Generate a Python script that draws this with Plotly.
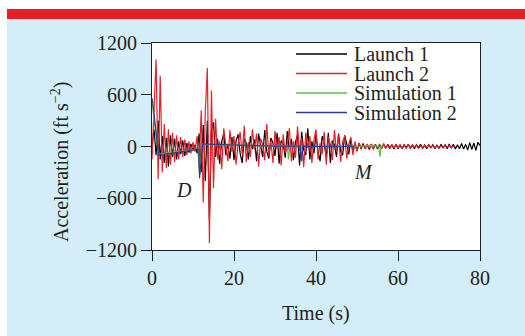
import plotly.graph_objects as go

# ---------------- data ----------------
dt_launch = 0.5  # sampling step of the launch records (s)

launch1 = [
    0, 200, -100, 300, -150, 120, -190, 100, -230, 130,
    -120, 90, -150, 60, -90, 70, -110, 40, -70, 30,
    -50, 20, -80, 150, -300, 250, -400, 300, -850, 200,
    280, -120, 90, -200, 60, 150, -100, 30, -140, 110,
    -160, 60, 140, -80, -190, 90, 40, -150, 120, -30,
    80, -170, 150, 20, -120, 190, -60, -140, 100, 40,
    -110, 160, -200, 70, 30, -130, 180, -50, 90, -160,
    50, 130, -220, 170, -40, -100, 210, -150, 60, -80,
    140, -60, -170, 120, 40, -130, 160, -190, 70, 20,
    -120, 150, -60, -100, 130, 30, -90, 80, -60, 40,
    -50, 40, -30, 35, -25, 20, -35, 30, -20, 25,
    -30, 15, -25, 30, -20, 25, -15, 20, -30, 25,
    -20, 15, -25, 20, -15, 25, -20, 15, -25, 20,
    -15, 25, -20, 15, -25, 20, -15, 20, -25, 15,
    -20, 25, -15, 20, -25, 30, -20, 25, -30, 20,
    -25, 35, -30, 25, -40, 45, -35, 40, -45, 50,
    10,
]

launch2 = [
    -150, 480, 1010, -380, 820, -300, 260, -250, 200, -210,
    160, -180, 130, -150, 110, -120, 80, -100, 60, -80,
    50, -60, 120, -250, 420, -650, 400, 910, -1120, 650,
    -480, 320, -150, 60, -260, 210, 40, -170, 190, -60,
    120, -210, 30, 170, -90, 240, -180, 50, -120, 200,
    -40, 150, -230, 90, 20, -160, 260, -110, 70, -190,
    180, -30, 110, -220, 140, -80, 30, 210, -170, 60,
    -130, 230, -50, 100, -240, 160, -20, 120, -190, 80,
    200, -150, 40, -90, 170, -210, 110, 30, -160, 190,
    -70, 140, -180, 60, 120, -140, 30, 110, -100, 60,
    -60, 40, -30, 20, -25, 30, -20, 25, -35, 20,
    -15, 30, -25, 35, -20, 15, -30, 25, -20, 30,
    -15, 20, -25, 15, -20, 25, -15, 20, -10, 15,
    -20, 10, -15, 20, -10, 15, -12, 10, -15, 12,
    -10, 8, -12, 10, -8, 10, -10, 5, 0,
]

sim1_t = [0, 1.5, 5, 10, 11.3, 11.6, 12.2, 20, 30, 33.0, 33.3, 33.6, 40, 45,
          48, 49, 50, 51, 52, 53, 54, 55.3, 55.6, 55.9, 56.5]
sim1_a = [520, -90, -65, -35, -30, -330, 25, 15, 5, 5, -150, 5, 0, 0,
          5, 0, 8, 3, 10, 5, 8, 5, -120, 5, 5]

sim2_t = [0, 0.3, 1.6, 5, 8, 11, 11.4, 11.6, 11.8, 12.3, 15, 20, 25, 30,
          36.2, 36.5, 36.8, 40, 45, 49.3]
sim2_a = [560, 470, -100, -75, -55, -35, -30, -370, -250, 30, 25, 15, 10, 5,
          5, -170, 5, 0, 0, 0]

series_names = ["Launch 1", "Launch 2", "Simulation 1", "Simulation 2"]
series_colors = ["#000000", "#e8202a", "#5cc23a", "#2b3c9e"]

x_ticks = [0, 20, 40, 60, 80]
y_ticks = [-1200, -600, 0, 600, 1200]

# ---------------- figure ----------------
W, H = 525, 336
L, R, T, B = 152, 45, 43, 86
PW, PH = W - L - R, H - T - B

def px(x):
    return (x - L) / PW

def py(y):
    return (H - B - y) / PH

FONT = "Liberation Serif, Times New Roman, serif"
TXT = "#231f20"

t1 = [i * dt_launch for i in range(len(launch1))]
t2 = [i * dt_launch for i in range(len(launch2))]

fig = go.Figure()
for name, color, xs, ys in zip(series_names, series_colors,
                               [t1, t2, sim1_t, sim2_t],
                               [launch1, launch2, sim1_a, sim2_a]):
    fig.add_trace(go.Scatter(x=xs, y=ys, mode="lines", name=name,
                             line=dict(color=color, width=1.2),
                             showlegend=False))

shapes = [
    # white outer margins
    dict(type="rect", xref="paper", yref="paper", x0=px(0), x1=px(7),
         y0=py(H), y1=py(0), fillcolor="white", line_width=0, layer="below"),
    dict(type="rect", xref="paper", yref="paper", x0=px(0), x1=px(W),
         y0=py(9), y1=py(0), fillcolor="white", line_width=0, layer="below"),
    # red banner
    dict(type="rect", xref="paper", yref="paper", x0=px(7), x1=px(W),
         y0=py(19), y1=py(9), fillcolor="#e81f27", line_width=0, layer="below"),
]

annotations = []
# manual legend
leg_rows = [54, 73.5, 93, 112.5]
for name, color, yrow in zip(series_names, series_colors, leg_rows):
    shapes.append(dict(type="line", xref="paper", yref="paper",
                       x0=px(296), x1=px(347), y0=py(yrow), y1=py(yrow),
                       line=dict(color=color, width=1.5)))
    annotations.append(dict(xref="paper", yref="paper", x=px(352), y=py(yrow),
                            text=name, showarrow=False, xanchor="left",
                            yanchor="middle",
                            font=dict(family=FONT, size=20, color=TXT)))

# labels inside the plot
annotations.append(dict(x=7.9, y=-504, text="<i>D</i>", showarrow=False,
                        font=dict(family=FONT, size=20, color=TXT)))
annotations.append(dict(x=51.5, y=-290, text="<i>M</i>", showarrow=False,
                        font=dict(family=FONT, size=20, color=TXT)))
# axis titles
annotations.append(dict(xref="paper", yref="paper", x=px(60), y=py(162),
                        text="Acceleration (ft s<sup>\u22122</sup>)",
                        textangle=-90, showarrow=False,
                        xanchor="center", yanchor="middle",
                        font=dict(family=FONT, size=20, color=TXT)))
annotations.append(dict(xref="paper", yref="paper", x=px(316), y=py(313),
                        text="Time (s)", showarrow=False,
                        xanchor="center", yanchor="middle",
                        font=dict(family=FONT, size=20, color=TXT)))

fig.update_layout(
    width=W, height=H,
    margin=dict(l=L, r=R, t=T, b=B),
    paper_bgcolor="#d3edf9",
    plot_bgcolor="white",
    font=dict(family=FONT, size=20, color=TXT),
    shapes=shapes,
    annotations=annotations,
    showlegend=False,
)
fig.update_xaxes(range=[0, 80], tickvals=x_ticks, ticks="outside", ticklen=10,
                 tickcolor=TXT, showline=True, linecolor=TXT, linewidth=1,
                 mirror=True, showgrid=False, zeroline=False,
                 tickfont=dict(family=FONT, size=20, color=TXT))
fig.update_yaxes(range=[-1200, 1200], tickvals=y_ticks, ticks="outside",
                 ticklen=10, tickcolor=TXT, showline=True, linecolor=TXT,
                 linewidth=1, mirror=True, showgrid=False, zeroline=False,
                 tickfont=dict(family=FONT, size=20, color=TXT))

fig.write_html("out.html")
